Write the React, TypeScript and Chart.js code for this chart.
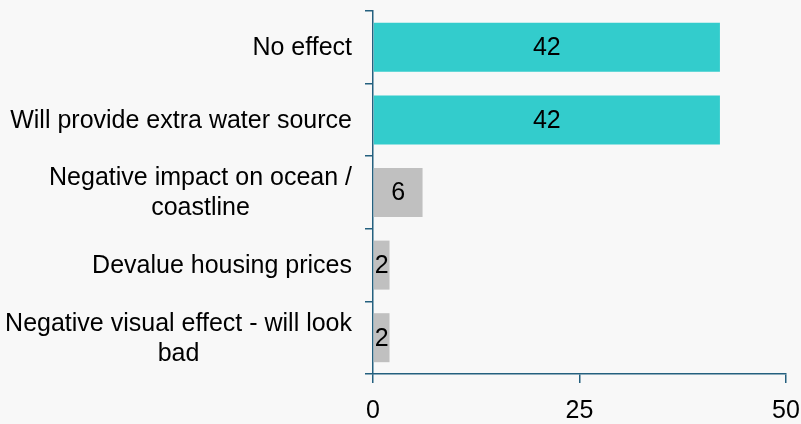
import React, { useEffect, useRef } from "react";
import { Chart, registerables } from "chart.js";

Chart.register(...registerables);

const categories: string[][] = [
  ["No effect"],
  ["Will provide extra water source"],
  ["Negative impact on ocean /", "coastline"],
  ["Devalue housing prices"],
  ["Negative visual effect - will look", "bad"],
];
const values: number[] = [42, 42, 6, 2, 2];
const barColors: string[] = ["#33CCCC", "#33CCCC", "#C0C0C0", "#C0C0C0", "#C0C0C0"];
const xTicks: number[] = [0, 25, 50];

const AXIS = "#24607f";
const BG = "#f8f8f8";
const FONT = "Liberation Sans, Arial, sans-serif";
const FS = 25;

export default function App() {
  const ref = useRef<HTMLCanvasElement | null>(null);
  useEffect(() => {
    document.body.style.margin = "0";
    document.body.style.background = BG;
    const canvas = ref.current!;
    const bgPlugin = {
      id: "bg",
      beforeDraw(chart: any) {
        const c = chart.ctx;
        c.save();
        c.fillStyle = BG;
        c.fillRect(0, 0, chart.width, chart.height);
        c.restore();
      },
    };
    const labelPlugin = {
      id: "labels",
      afterDatasetsDraw(chart: any) {
        const c = chart.ctx;
        const meta = chart.getDatasetMeta(0);
        const yScale = chart.scales.y;
        c.save();
        c.font = `${FS}px ${FONT}`;
        c.fillStyle = "#000";
        c.textBaseline = "middle";
        c.textAlign = "center";
        meta.data.forEach((bar: any, i: number) => {
          const base = bar.base;
          const x = (bar.x + base) / 2;
          c.fillText(String(values[i]), x, bar.y + 1);
        });
        const right = yScale.right - 21;
        const lh = 30;
        categories.forEach((lines, i) => {
          const cy = yScale.getPixelForValue(i);
          const maxW = Math.max(...lines.map((l) => c.measureText(l).width));
          const cx = right - maxW / 2;
          const y0 = cy - ((lines.length - 1) * lh) / 2;
          lines.forEach((l, j) => {
            c.fillText(l, cx, y0 + j * lh + 1);
          });
        });
        c.restore();
      },
    };
    const chart = new Chart(canvas, {
      type: "bar",
      data: {
        labels: categories.map((l) => l.join(" ")),
        datasets: [
          {
            data: values,
            backgroundColor: barColors,
            borderWidth: 0,
            categoryPercentage: 1,
            barPercentage: 0.675,
          },
        ],
      },
      options: {
        indexAxis: "y",
        animation: false,
        responsive: false,
        maintainAspectRatio: false,
        devicePixelRatio: 1,
        layout: { padding: { top: 11, right: 15, left: 0, bottom: 0 } },
        plugins: { legend: { display: false }, tooltip: { enabled: false } },
        scales: {
          x: {
            min: 0,
            max: 50,
            afterBuildTicks(scale: any) {
              scale.ticks = xTicks.map((v) => ({ value: v }));
            },
            afterFit(scale: any) {
              scale.height = 50;
              scale.paddingRight = 0;
              scale.paddingLeft = 0;
            },
            grid: {
              drawOnChartArea: false,
              drawTicks: true,
              tickLength: 9,
              color: AXIS,
              lineWidth: 1.5,
            },
            border: { display: true, color: AXIS, width: 1.5 },
            ticks: {
              color: "#000",
              font: { family: FONT, size: FS },
              padding: 13,
              maxRotation: 0,
            },
          },
          y: {
            afterFit(scale: any) {
              scale.width = 373;
              scale.paddingTop = 0;
              scale.paddingBottom = 0;
            },
            grid: {
              drawOnChartArea: false,
              drawTicks: true,
              tickLength: 8,
              color: AXIS,
              lineWidth: 1.5,
              offset: true,
            },
            border: { display: true, color: AXIS, width: 1.5 },
            ticks: { display: false },
          },
        },
      },
      plugins: [bgPlugin, labelPlugin],
    });
    return () => chart.destroy();
  }, []);
  return (
    <div style={{ width: 801, height: 424, background: BG }}>
      <canvas ref={ref} width={801} height={424} style={{ display: "block" }} />
    </div>
  );
}
